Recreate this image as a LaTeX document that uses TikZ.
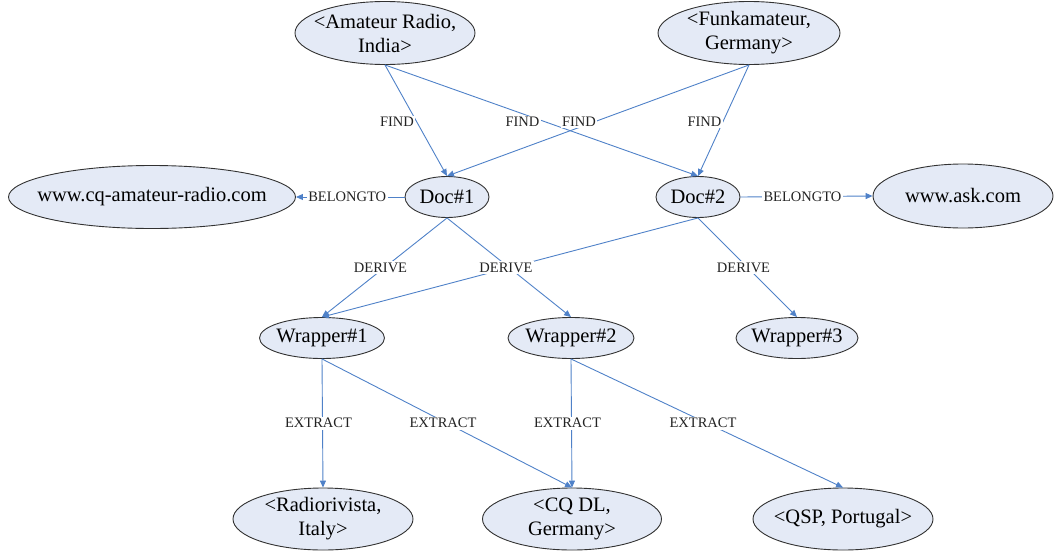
\documentclass[tikz,border=0pt]{standalone}
\usepackage{fontspec}
\setmainfont{Liberation Serif}
\usetikzlibrary{shapes.geometric,arrows.meta}
\definecolor{ellfill}{RGB}{228,234,246}
\definecolor{ellline}{RGB}{50,50,50}
\definecolor{edgec}{RGB}{79,129,200}
\definecolor{labc}{RGB}{35,35,35}
\tikzset{
  ell/.style={ellipse, draw=ellline, fill=ellfill, line width=0.9pt, inner sep=0pt},
  ntxt/.style={align=center, inner sep=0pt, font=\fontsize{20.5}{24}\selectfont},
  edge/.style={draw=edgec, line width=0.9pt, -{Triangle[length=7pt,width=6pt]}},
  elab/.style={fill=white, inner sep=1.5pt, text=labc, font=\fontsize{14.5}{16}\selectfont, xshift=-4pt},
  flab/.style={elab, xshift=-15pt, yshift=-1.5pt}
}
\begin{document}
\begin{tikzpicture}[x=1pt,y=-1pt]
\useasboundingbox (0,0) rectangle (1054,552);
% nodes
\node[ell, minimum width=180pt, minimum height=63pt] (ar) at (385,33) {};
\node[ntxt] (ar-t) at (ar.center) {<Amateur Radio,\\India>};
\node[ell, minimum width=182pt, minimum height=63pt] (fk) at (749,33) {};
\node[ntxt] (fk-t) at (fk.center) {<Funkamateur,\\Germany>};
\node[ell, minimum width=84pt, minimum height=41pt] (d1) at (447,197) {};
\node[ntxt] (d1-t) at (d1.center) {Doc\#1};
\node[ell, minimum width=84pt, minimum height=41pt] (d2) at (698,197) {};
\node[ntxt] (d2-t) at (d2.center) {Doc\#2};
\node[ell, minimum width=287pt, minimum height=63pt] (cq) at (152,197) {};
\node[ntxt] (cq-t) at (cq.center) {www.cq-amateur-radio.com};
\node[ell, minimum width=180pt, minimum height=64pt] (ask) at (963,196) {};
\node[ntxt] (ask-t) at (ask.center) {www.ask.com};
\node[ell, minimum width=125pt, minimum height=41pt] (w1) at (322,338) {};
\node[ntxt] (w1-t) at (w1.center) {Wrapper\#1};
\node[ell, minimum width=126pt, minimum height=41pt] (w2) at (571,338) {};
\node[ntxt] (w2-t) at (w2.center) {Wrapper\#2};
\node[ell, minimum width=122pt, minimum height=41pt] (w3) at (797,338) {};
\node[ntxt] (w3-t) at (w3.center) {Wrapper\#3};
\node[ell, minimum width=180pt, minimum height=62pt] (ri) at (323,519) {};
\node[ntxt] (ri-t) at (ri.center) {<Radiorivista,\\Italy>};
\node[ell, minimum width=179pt, minimum height=62pt] (cqdl) at (572,519) {};
\node[ntxt] (cqdl-t) at (cqdl.center) {<CQ DL,\\Germany>};
\node[ell, minimum width=180pt, minimum height=62pt] (qsp) at (843,519) {};
\node[ntxt] (qsp-t) at (qsp.center) {<QSP, Portugal>};
% edges
\draw[edge] (ar.south) -- node[flab]{FIND} (d1.north);
\draw[edge] (ar.south) -- node[flab]{FIND} (d2.north);
\draw[edge] (fk.south) -- node[flab]{FIND} (d1.north);
\draw[edge] (fk.south) -- node[flab]{FIND} (d2.north);
\draw[edge] (d1.west) -- node[elab, xshift=1pt]{BELONGTO} (cq.east);
\draw[edge] (d2.east) -- node[elab]{BELONGTO} (ask.west);
\draw[edge] (d1.south) -- (w2.north);
\draw[edge] (d1.south) -- node[elab]{DERIVE} (w1.north);
\draw[edge] (d2.south) -- node[elab]{DERIVE} (w1.north);
\draw[edge] (d2.south) -- node[elab]{DERIVE} (w3.north);
\draw[edge] (w1.south) -- node[elab]{EXTRACT} (ri.north);
\draw[edge] (w1.south) -- node[elab]{EXTRACT} (cqdl.north);
\draw[edge] (w2.south) -- node[elab]{EXTRACT} (cqdl.north);
\draw[edge] (w2.south) -- node[elab]{EXTRACT} (qsp.north);
\end{tikzpicture}
\end{document}
